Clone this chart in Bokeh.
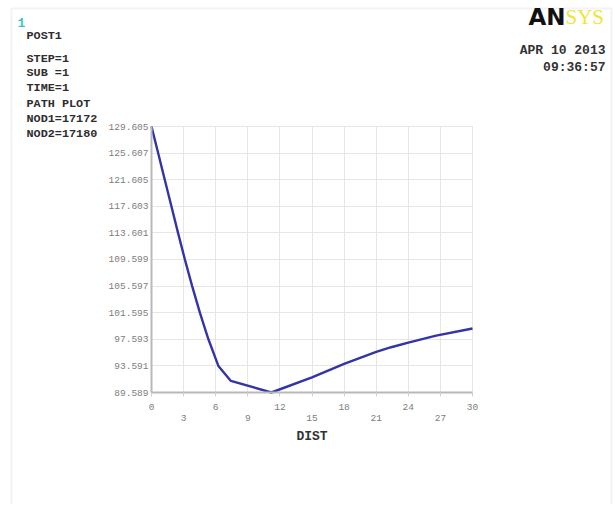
from bokeh.plotting import figure
from bokeh.models import (Label, LinearAxis, FixedTicker, NumeralTickFormatter,
                          Range1d, BoxAnnotation)
from bokeh.embed import file_html
from bokeh.resources import INLINE

# ---- data ----
dist = [0, 0.62, 1.24, 1.86, 2.48, 3.12, 3.80, 4.52, 5.32, 6.25, 7.42,
        11.2, 15, 18, 21, 22.4, 24, 26.6, 30]
value = [129.605, 125.607, 121.605, 117.603, 113.601, 109.599, 105.597,
         101.595, 97.593, 93.591, 91.33, 89.589, 91.85, 93.9, 95.7, 96.4,
         97.1, 98.15, 99.22]
x_ticks_all = [0, 3, 6, 9, 12, 15, 18, 21, 24, 27, 30]
x_ticks_upper = [0, 6, 12, 18, 24, 30]
x_ticks_lower = [3, 9, 15, 21, 27]
y_ticks = [89.589, 93.591, 97.593, 101.595, 105.597, 109.599, 113.601,
           117.603, 121.605, 125.607, 129.605]
x_label = "DIST"
info_lines = ["POST1", "STEP=1", "SUB =1", "TIME=1", "PATH PLOT",
              "NOD1=17172", "NOD2=17180"]
date_lines = ["APR 10 2013", "09:36:57"]
window_no = "1"
logo_a = "AN"
logo_b = "SYS"

X0, X1 = x_ticks_all[0], x_ticks_all[-1]
Y0, Y1 = y_ticks[0], y_ticks[-1]

# ---- layout (page pixels) ----
FRAME_L, FRAME_T, FRAME_W, FRAME_H = 151, 126, 321, 266   # the chart box
FRAME_B = FRAME_T + FRAME_H
ORIG_X, ORIG_Y = 0, 0            # page position of the canvas origin
W, H = 613, 504
KX = (X1 - X0) / FRAME_W
KY = (Y1 - Y0) / FRAME_H


def dx(px):
    return X0 + (px - FRAME_L) * KX


def dy(py):
    return Y0 + (FRAME_B - py) * KY


# whole canvas is the plotting frame; the chart box sits inside it
p = figure(width=W, height=H, output_backend="svg", toolbar_location=None,
           x_range=Range1d(dx(ORIG_X), dx(ORIG_X + W)),
           y_range=Range1d(dy(ORIG_Y + H), dy(ORIG_Y)),
           min_border=0, background_fill_color="white", border_fill_color="white")
p.title.visible = False
p.outline_line_color = None

# window frame of the ANSYS graphics area
p.add_layout(BoxAnnotation(left=dx(11), right=dx(611), top=dy(8), bottom=dy(520),
                           fill_alpha=0, line_color="#d6d6d6", line_width=2,
                           level="underlay"))

grid_col = "#e6e6e6"
xg, yg = p.xgrid[0], p.ygrid[0]
xg.ticker = FixedTicker(ticks=x_ticks_all)
yg.ticker = FixedTicker(ticks=y_ticks)
xg.grid_line_color = grid_col
yg.grid_line_color = grid_col
if "cross_bounds" in xg.properties():
    xg.bounds = (X0, X1)
    xg.cross_bounds = (Y0, Y1)
    yg.bounds = (Y0, Y1)
    yg.cross_bounds = (X0, X1)
else:
    xg.visible = False
    yg.visible = False
    p.segment(x_ticks_all, [Y0] * len(x_ticks_all), x_ticks_all, [Y1] * len(x_ticks_all),
              line_color=grid_col, line_width=1)
    p.segment([X0] * len(y_ticks), y_ticks, [X1] * len(y_ticks), y_ticks,
              line_color=grid_col, line_width=1)

p.line(dist, value, line_color="#3434a6", line_width=2.4)

axis_col = "#b9b9b9"
lab_col = "#7d7d7d"
mono = "Liberation Mono"

# y axis
ya = p.yaxis[0]
ya.fixed_location = X0
ya.bounds = (Y0, Y1)
ya.ticker = FixedTicker(ticks=y_ticks)
ya.formatter = NumeralTickFormatter(format="0.000")
ya.axis_line_color = axis_col
ya.axis_line_width = 2
ya.major_tick_out = 0
ya.major_tick_in = 0
ya.minor_tick_line_color = None
ya.major_label_standoff = 3
ya.major_label_text_font = mono
ya.major_label_text_font_size = "9.5px"
ya.major_label_text_color = lab_col

# x axis, upper label row
xa = p.xaxis[0]
xa.fixed_location = Y0
xa.bounds = (X0, X1)
xa.ticker = FixedTicker(ticks=x_ticks_all)
xa.major_label_overrides = {t: "" for t in x_ticks_lower}
xa.axis_line_color = axis_col
xa.axis_line_width = 2
xa.major_tick_line_color = "#d0d0d0"
xa.major_tick_out = 4
xa.major_tick_in = 0
xa.minor_tick_line_color = None
xa.major_label_standoff = 7
xa.major_label_text_font = mono
xa.major_label_text_font_size = "9.5px"
xa.major_label_text_color = lab_col

# x axis, lower label row + axis title
xb = LinearAxis(ticker=FixedTicker(ticks=x_ticks_lower), fixed_location=Y0,
                bounds=(X0, X1))
xb.axis_line_color = None
xb.major_tick_line_color = None
xb.minor_tick_line_color = None
xb.major_label_standoff = 16
xb.major_label_text_font = mono
xb.major_label_text_font_size = "9.5px"
xb.major_label_text_color = lab_col
xb.axis_label = x_label
xb.axis_label_standoff = 5
xb.axis_label_text_font = mono
xb.axis_label_text_font_size = "13px"
xb.axis_label_text_font_style = "bold"
xb.axis_label_text_color = "#333333"
p.add_layout(xb, "below")


def add_text(txt, px, py, size, color, align="left", baseline="middle",
             font=mono, style="bold"):
    p.add_layout(Label(x=dx(px), y=dy(py),
                       text=txt, text_font=font, text_font_size=size,
                       text_font_style=style, text_color=color,
                       text_align=align, text_baseline=baseline))


add_text(window_no, 17, 22, "13px", "#3cc6c6")
info_y = [35, 58.3, 72.7, 87.3, 103.3, 118.3, 133.3]
for txt, yy in zip(info_lines, info_y):
    add_text(txt, 26, yy, "11.8px", "#2e2e2e")

for txt, yy in zip(date_lines, [50, 66.7]):
    add_text(txt, 605, yy, "13px", "#333333", align="right")

add_text(logo_a, 565, 16, "23px", "#111111", align="right",
         font="DejaVu Sans", style="bold")
add_text(logo_b, 565, 16, "21px", "#f0e43a", align="left",
         font="Liberation Serif", style="normal")

open("out.html", "w").write(file_html(p, INLINE))
